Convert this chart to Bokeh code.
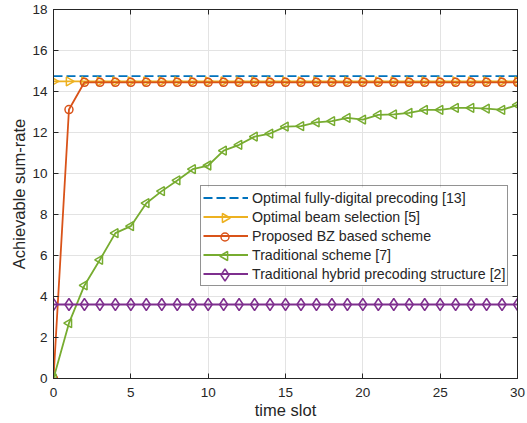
import numpy as np
from bokeh.plotting import figure
from bokeh.models import LinearAxis, Legend, LegendItem, FixedTicker, Range1d
from bokeh.embed import file_html
from bokeh.resources import INLINE

t = list(range(0, 31))
optimal_digital = [14.75] * 31
optimal_beam = [14.49] * 31
proposed_bz = [0.0, 13.12] + [14.45] * 29
traditional = [0.0, 2.7, 4.54, 5.79, 7.09, 7.43, 8.55, 9.14, 9.66, 10.21, 10.39,
               11.12, 11.4, 11.8, 11.95, 12.29, 12.31, 12.49, 12.55, 12.71, 12.63,
               12.86, 12.88, 12.96, 13.1, 13.1, 13.2, 13.2, 13.16, 13.1, 13.35]
hybrid = [3.61] * 31

x_ticks = [0, 5, 10, 15, 20, 25, 30]
y_ticks = [0, 2, 4, 6, 8, 10, 12, 14, 16, 18]
labels = ["Optimal fully-digital precoding [13]",
          "Optimal beam selection [5]",
          "Proposed BZ based scheme",
          "Traditional scheme [7]",
          "Traditional hybrid precoding structure [2]"]

BLUE = "#0072BD"
YELLOW = "#EDB120"
RED = "#D95319"
GREEN = "#77AC30"
PURPLE = "#7E2F8E"
FONT = "Liberation Sans"
TXT = "#262626"

W, H = 527, 423
BL, BR, BT, BB = 53, 10, 9, 45
FW, FH = W - BL - BR, H - BT - BB
X0, X1, Y0, Y1 = 0, 30, 0, 18

p = figure(width=W, height=H, output_backend="svg", toolbar_location=None,
           x_range=Range1d(X0, X1), y_range=Range1d(Y0, Y1),
           min_border_left=BL, min_border_right=BR, min_border_top=BT, min_border_bottom=BB)
p.outline_line_color = TXT
p.background_fill_color = "white"
p.border_fill_color = "white"

for ax in (p.xaxis[0], p.yaxis[0]):
    ax.axis_line_color = TXT
    ax.major_tick_line_color = TXT
    ax.major_tick_in = 5
    ax.major_tick_out = 0
    ax.minor_tick_line_color = None
    ax.major_label_text_font = FONT
    ax.major_label_text_font_size = "13.5px"
    ax.major_label_text_color = TXT
    ax.axis_label_text_font = FONT
    ax.axis_label_text_font_size = "16.5px"
    ax.axis_label_text_font_style = "normal"
    ax.axis_label_text_color = TXT

p.xaxis[0].ticker = FixedTicker(ticks=x_ticks)
p.yaxis[0].ticker = FixedTicker(ticks=y_ticks)
p.xaxis[0].axis_label = "time slot"
p.yaxis[0].axis_label = "Achievable sum-rate"
p.xaxis[0].major_label_standoff = 9
p.yaxis[0].major_label_standoff = 6
p.xaxis[0].axis_label_standoff = 1
p.yaxis[0].axis_label_standoff = 1

for loc, tk in (("right", y_ticks), ("above", x_ticks)):
    a = LinearAxis(ticker=FixedTicker(ticks=tk))
    a.major_label_text_font_size = "0px"
    a.major_label_standoff = 0
    a.major_tick_in = 5
    a.major_tick_out = 0
    a.minor_tick_line_color = None
    a.axis_line_color = TXT
    a.major_tick_line_color = TXT
    p.add_layout(a, loc)

p.xgrid.ticker = FixedTicker(ticks=x_ticks)
p.ygrid.ticker = FixedTicker(ticks=y_ticks)
p.grid.grid_line_color = "#e3e3e3"
p.grid.grid_line_width = 1

LW = 1.8
MLW = 1.5

# marker styles per series: (marker, angle, size, color)
M_BEAM = ("triangle", -np.pi / 2, 9, YELLOW)
M_BZ = ("circle", 0.0, 8, RED)
M_TRAD = ("triangle", np.pi / 2, 9, GREEN)
M_HYB = ("diamond", 0.0, 12, PURPLE)

# legend geometry (screen px, relative to the frame's bottom-left)
LEG_X, LEG_Y = 147, 92
PAD, GW, ROW = 2, 45, 19
n_items = len(labels)
leg_top_px = LEG_Y + 2 * PAD + n_items * ROW
cx_px = LEG_X + PAD + GW / 2


def px_to_x(px):
    return X0 + px * (X1 - X0) / FW


def px_to_y(px):
    return Y0 + px * (Y1 - Y0) / FH


def row_px(i):
    return leg_top_px - PAD - ROW * i - ROW / 2


# white backing for the (transparent) legend box, under the legend symbols
p.quad(left=[px_to_x(LEG_X)], right=[px_to_x(FW - 2)],
       bottom=[px_to_y(LEG_Y)], top=[px_to_y(leg_top_px)],
       fill_color="white", line_alpha=0)

# legend marker symbols at full size (Bokeh legends shrink markers and ignore angles)
for i, (mk, ang, sz, color) in ((1, M_BEAM), (2, M_BZ), (3, M_TRAD), (4, M_HYB)):
    p.scatter([px_to_x(cx_px)], [px_to_y(row_px(i))], marker=mk,
              angle=ang, size=sz, line_color=color, line_width=MLW, fill_alpha=0)


def series(y, style):
    mk, ang, sz, color = style
    ln = p.line(t, y, line_color=color, line_width=LW)
    p.scatter(t, y, marker=mk, angle=ang, size=sz,
              line_color=color, line_width=MLW, fill_alpha=0)
    return ln


r_blue = p.line(t, optimal_digital, line_color=BLUE, line_width=LW, line_dash="9 4")
r_y = series(optimal_beam, M_BEAM)
r_r = series(proposed_bz, M_BZ)
r_g = series(traditional, M_TRAD)
r_p = series(hybrid, M_HYB)

legend = Legend(items=[LegendItem(label=lab, renderers=[r])
                       for lab, r in zip(labels, [r_blue, r_y, r_r, r_g, r_p])],
                location=(LEG_X, LEG_Y))
legend.label_text_font = FONT
legend.label_text_font_size = "14.2px"
legend.label_text_color = TXT
legend.glyph_width = GW
legend.glyph_height = ROW
legend.label_height = ROW
legend.spacing = 0
legend.padding = PAD
legend.margin = 0
legend.label_standoff = 4
legend.border_line_color = TXT
legend.border_line_width = 1
legend.background_fill_alpha = 0
p.add_layout(legend, "center")

open("out.html", "w").write(file_html(p, INLINE))
